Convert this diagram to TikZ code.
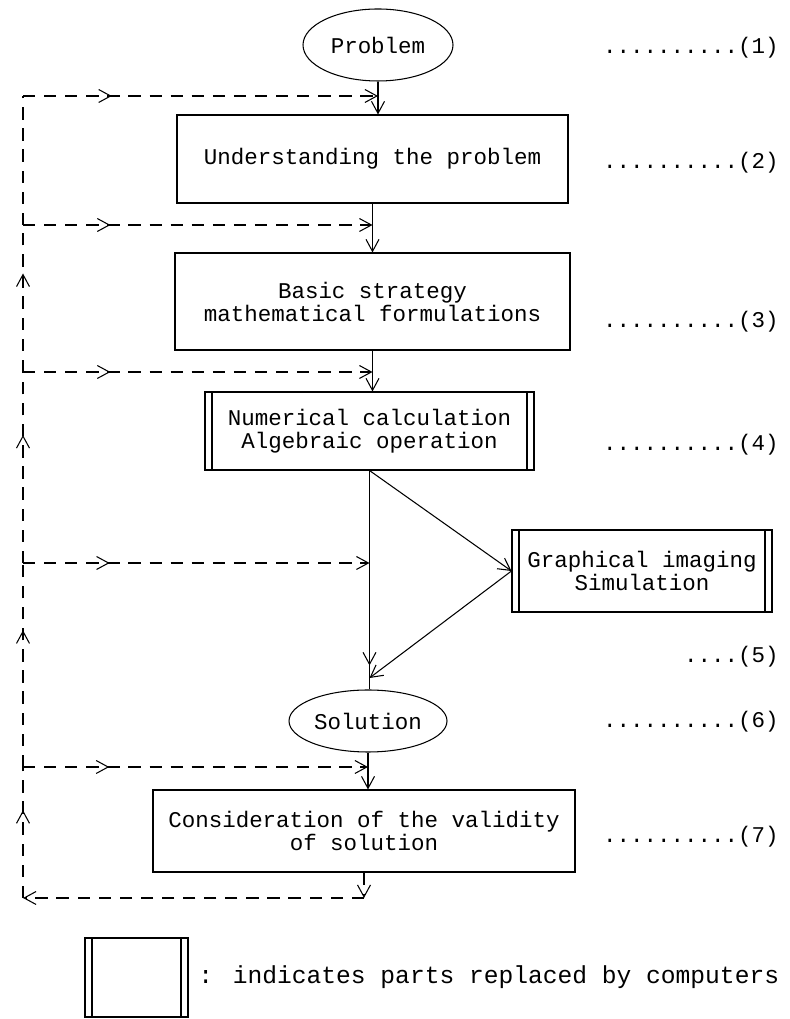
\documentclass[tikz,border=0pt]{standalone}
\usepackage{fontspec}
\newfontfamily\typefont{Liberation Mono}
\usetikzlibrary{arrows.meta,positioning,shapes.geometric,decorations.markings}

\begin{document}
\begin{tikzpicture}[x=1cm,y=1cm,>={Straight Barb[length=2.4mm,width=2.6mm]},line width=0.6pt,
  font=\typefont\fontsize{12.8}{13.1}\selectfont,
  flowbox/.style={draw,align=center,inner sep=0pt},
  compbox/.style={flowbox,path picture={
    \draw ([xshift=0.14cm]path picture bounding box.north west)--([xshift=0.14cm]path picture bounding box.south west);
    \draw ([xshift=-0.14cm]path picture bounding box.north east)--([xshift=-0.14cm]path picture bounding box.south east);}},
  endblob/.style={draw,ellipse,inner sep=0pt},
  numlabel/.style={anchor=east},
  loopline/.style={dash pattern=on 7pt off 5pt},
  midarrow/.style={postaction={decorate},decoration={markings,mark=at position 0.25 with {\arrow{>}}}},
  uparrow/.style={postaction={decorate},decoration={markings,mark=at position 0.67 with {\arrow{>}}}},
  nearend/.style={postaction={decorate},decoration={markings,mark=at position 0.89 with {\arrow{>}}}}]
\useasboundingbox (0,0) rectangle (15.78,20.38);
% steps of the method
\node[endblob,minimum width=3cm,minimum height=1.44cm] (prob) at (7.56,19.48) {Problem};
\node[flowbox,minimum width=7.82cm,minimum height=1.76cm] (und) at (7.45,17.2) {Understanding the problem};
\node[flowbox,minimum width=7.9cm,minimum height=1.94cm] (basic) at (7.45,14.35) {Basic strategy\\mathematical formulations};
\node[compbox,minimum width=6.58cm,minimum height=1.56cm] (num) at (7.39,11.76) {Numerical calculation\\Algebraic operation};
\node[compbox,minimum width=5.2cm,minimum height=1.64cm] (graph) at (12.84,8.96) {Graphical imaging\\Simulation};
\node[endblob,minimum width=3.16cm,minimum height=1.24cm] (sol) at (7.36,5.96) {Solution};
\node[flowbox,minimum width=8.44cm,minimum height=1.64cm] (cons) at (7.28,3.76) {Consideration of the validity\\of solution};
% step numbers
\node[numlabel] (n1) at (15.7,19.42) {..........(1)};
\node[numlabel] (n2) at (15.7,17.12) {..........(2)};
\node[numlabel] (n3) at (15.7,13.94) {..........(3)};
\node[numlabel] (n4) at (15.7,11.48) {..........(4)};
\node[numlabel] (n5) at (15.7,7.24) {....(5)};
\node[numlabel] (n6) at (15.7,5.94) {..........(6)};
\node[numlabel] (n7) at (15.7,3.64) {..........(7)};
% main flow
\draw[->] (prob.south)--(prob.south |- und.north);
\draw[->] (und.south)--(und.south |- basic.north);
\draw[->] (basic.south)--(basic.south |- num.north);
\coordinate (merge) at (7.39,6.82);
\draw[nearend] (num.south)--(num.south |- sol.north);
\draw[->] (num.south)--(graph.west);
\draw[->] (graph.west)--(merge);
\draw[->] (sol.south)--(sol.south |- cons.north);
% feedback loop
\coordinate (fbA) at (0.46,18.46);
\coordinate (fbB) at (0.46,15.88);
\coordinate (fbC) at (0.46,12.94);
\coordinate (fbD) at (0.46,9.12);
\coordinate (fbE) at (0.46,5.04);
\coordinate (fbF) at (0.46,2.42);
\coordinate (back) at (cons.south |- fbF);
\draw[loopline,->] (cons.south)--(back);
\draw[loopline,->] (back)--(fbF);
\draw[loopline,uparrow] (fbF)--(fbE);
\draw[loopline,uparrow] (fbE)--(fbD);
\draw[loopline,uparrow] (fbD)--(fbC);
\draw[loopline,uparrow] (fbC)--(fbB);
\draw[loopline] (fbB)--(fbA);
\draw[loopline,midarrow,->] (fbA)--(prob.south |- fbA);
\draw[loopline,midarrow,->] (fbB)--(und.south |- fbB);
\draw[loopline,midarrow,->] (fbC)--(basic.south |- fbC);
\draw[loopline,midarrow,->] (fbD)--(num.south |- fbD);
\draw[loopline,midarrow,->] (fbE)--(sol.south |- fbE);
% legend
\node[compbox,minimum width=2.06cm,minimum height=1.58cm] (key) at (2.73,0.83) {};
\node[right=2pt of key,font=\typefont\fontsize{14}{16}\selectfont] (keytext) {: indicates parts replaced by computers};
\end{tikzpicture}
\end{document}
